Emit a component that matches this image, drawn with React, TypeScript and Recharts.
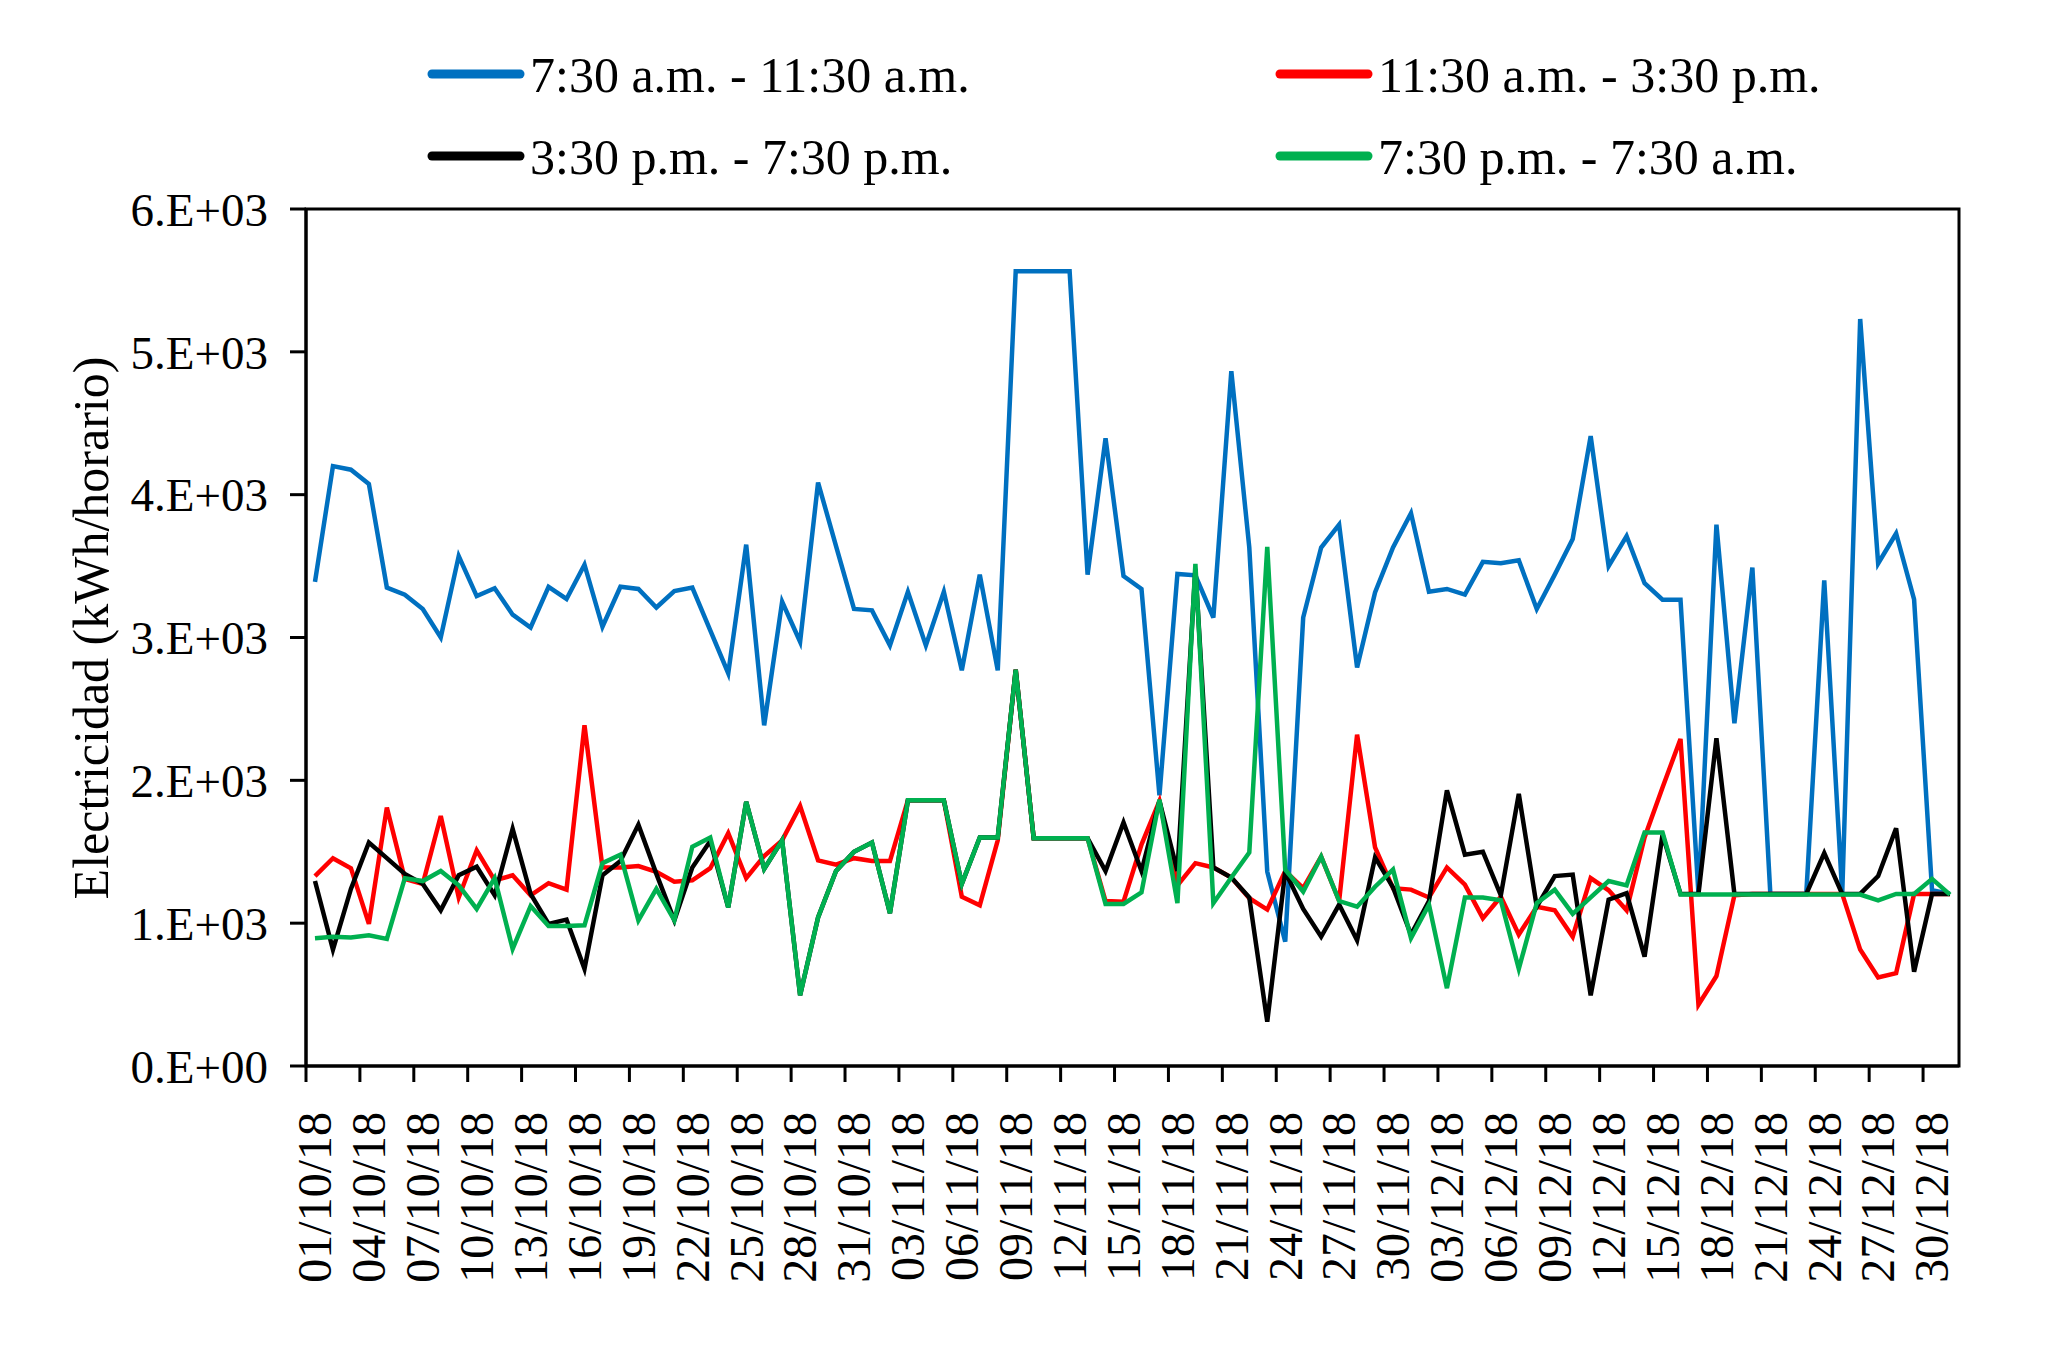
import React from 'react';
import { LineChart, Line, XAxis, YAxis, ReferenceArea, Legend } from 'recharts';

const DATES = [
  '01/10/18','02/10/18','03/10/18','04/10/18','05/10/18','06/10/18','07/10/18','08/10/18','09/10/18','10/10/18',
  '11/10/18','12/10/18','13/10/18','14/10/18','15/10/18','16/10/18','17/10/18','18/10/18','19/10/18','20/10/18',
  '21/10/18','22/10/18','23/10/18','24/10/18','25/10/18','26/10/18','27/10/18','28/10/18','29/10/18','30/10/18',
  '31/10/18','01/11/18','02/11/18','03/11/18','04/11/18','05/11/18','06/11/18','07/11/18','08/11/18','09/11/18',
  '10/11/18','11/11/18','12/11/18','13/11/18','14/11/18','15/11/18','16/11/18','17/11/18','18/11/18','19/11/18',
  '20/11/18','21/11/18','22/11/18','23/11/18','24/11/18','25/11/18','26/11/18','27/11/18','28/11/18','29/11/18',
  '30/11/18','01/12/18','02/12/18','03/12/18','04/12/18','05/12/18','06/12/18','07/12/18','08/12/18','09/12/18',
  '10/12/18','11/12/18','12/12/18','13/12/18','14/12/18','15/12/18','16/12/18','17/12/18','18/12/18','19/12/18',
  '20/12/18','21/12/18','22/12/18','23/12/18','24/12/18','25/12/18','26/12/18','27/12/18','28/12/18','29/12/18',
  '30/12/18','31/12/18',
];

// 7:30 a.m. - 11:30 a.m.
const MORNING = [
  3390, 4200, 4175, 4075, 3350, 3300, 3200, 3000, 3570, 3290,
  3345, 3160, 3070, 3355, 3270, 3510, 3075, 3355, 3340, 3210,
  3325, 3350, 3050, 2750, 3650, 2385, 3250, 2970, 4085, 3640,
  3200, 3190, 2945, 3320, 2945, 3320, 2770, 3440, 2770, 5565,
  5565, 5565, 5565, 3440, 4395, 3430, 3340, 1895, 3445, 3435,
  3140, 4865, 3630, 1360, 870, 3140, 3630, 3790, 2790, 3315,
  3630, 3870, 3320, 3340, 3300, 3530, 3520, 3540, 3200, 3440,
  3690, 4410, 3500, 3710, 3380, 3265, 3265, 1205, 3790, 2400,
  3490, 1205, 1205, 1205, 3400, 1205, 5230, 3518, 3728, 3267,
  1230, 1205,
];

// 11:30 a.m. - 3:30 p.m.
const MIDDAY = [
  1330, 1455, 1385, 995, 1810, 1310, 1275, 1750, 1180, 1510,
  1300, 1335, 1195, 1280, 1235, 2385, 1390, 1390, 1400, 1360,
  1290, 1300, 1385, 1630, 1315, 1470, 1580, 1820, 1440, 1410,
  1455, 1435, 1435, 1860, 1860, 1860, 1185, 1125, 1580, 2775,
  1595, 1595, 1595, 1595, 1155, 1150, 1550, 1855, 1265, 1420,
  1390, 1320, 1175, 1095, 1365, 1245, 1465, 1155, 2320, 1530,
  1245, 1235, 1180, 1390, 1270, 1035, 1185, 920, 1115, 1090,
  905, 1315, 1230, 1090, 1600, 1950, 2290, 430, 630, 1195,
  1205, 1205, 1205, 1205, 1205, 1205, 815, 620, 650, 1205,
  1205, 1205,
];

// 3:30 p.m. - 7:30 p.m.
const AFTERNOON = [
  1295, 815, 1240, 1565, 1455, 1345, 1275, 1090, 1335, 1395,
  1195, 1660, 1205, 995, 1025, 680, 1335, 1435, 1690, 1345,
  1020, 1390, 1575, 1110, 1850, 1380, 1580, 495, 1040, 1365,
  1500, 1565, 1070, 1860, 1860, 1860, 1275, 1600, 1600, 2775,
  1595, 1595, 1595, 1595, 1365, 1705, 1365, 1855, 1365, 3480,
  1390, 1320, 1180, 310, 1360, 1100, 905, 1130, 880, 1460,
  1250, 920, 1155, 1930, 1480, 1500, 1195, 1905, 1115, 1330,
  1340, 495, 1165, 1210, 765, 1620, 1205, 1205, 2295, 1205,
  1205, 1205, 1205, 1205, 1490, 1205, 1205, 1330, 1665, 660,
  1205, 1205,
];

// 7:30 p.m. - 7:30 a.m.
const NIGHT = [
  895, 905, 900, 915, 890, 1315, 1295, 1365, 1265, 1100,
  1315, 820, 1120, 980, 980, 985, 1420, 1480, 1020, 1240,
  1020, 1535, 1600, 1110, 1850, 1380, 1580, 495, 1040, 1365,
  1500, 1565, 1070, 1860, 1860, 1860, 1275, 1600, 1600, 2775,
  1595, 1595, 1595, 1595, 1135, 1135, 1215, 1865, 1140, 3515,
  1140, 1320, 1495, 3635, 1375, 1220, 1465, 1155, 1115, 1255,
  1375, 895, 1130, 545, 1180, 1180, 1160, 680, 1140, 1235,
  1065, 1180, 1295, 1265, 1635, 1635, 1200, 1200, 1200, 1200,
  1200, 1200, 1200, 1200, 1200, 1200, 1200, 1160, 1205, 1205,
  1310, 1200,
];

const SERIES_NAMES = ['7:30 a.m. - 11:30 a.m.', '11:30 a.m. - 3:30 p.m.', '3:30 p.m. - 7:30 p.m.', '7:30 p.m. - 7:30 a.m.'];
const SERIES_COLORS = ['#0070C0', '#FF0000', '#000000', '#00B050'];
const X_TICKS = [0, 3, 6, 9, 12, 15, 18, 21, 24, 27, 30, 33, 36, 39, 42, 45, 48, 51, 54, 57, 60, 63, 66, 69, 72, 75, 78, 81, 84, 87, 90];
const Y_TICKS = [0, 1000, 2000, 3000, 4000, 5000, 6000];

const data = DATES.map((d, i) => ({
  idx: i,
  date: d,
  morning: MORNING[i],
  midday: MIDDAY[i],
  afternoon: AFTERNOON[i],
  night: NIGHT[i],
}));

const FONT = '"Liberation Serif", "Times New Roman", serif';
const W = 2059;
const H = 1346;
const M_TOP = 209;
const M_RIGHT = 100;
const Y_W = 306;
const X_H = 280;
const PLOT_W = W - M_RIGHT - Y_W;
const DAY_PX = PLOT_W / DATES.length;
const LINE_W = 4.5;

function XTick(props: any) {
  const { x, y, payload } = props;
  const bx = x - DAY_PX / 2;
  return (
    <g>
      <line x1={bx} x2={bx} y1={y - 16} y2={y} stroke="#000" strokeWidth={3} />
      <text
        transform={`translate(${x},${y + 30}) rotate(-90)`}
        textAnchor="end"
        dy="0.34em"
        fontFamily={FONT}
        fontSize={48}
        fill="#000"
      >
        {DATES[payload.value]}
      </text>
    </g>
  );
}

const LEGEND_POS = [
  { lx: 432, ly: 74 },
  { lx: 1280, ly: 74 },
  { lx: 432, ly: 156 },
  { lx: 1280, ly: 156 },
];

function LegendContent(props: any) {
  const payload = props.payload || [];
  return (
    <svg width={W} height={200} style={{ display: 'block' }}>
      {payload.map((p: any, i: number) => {
        const k = SERIES_NAMES.indexOf(p.value);
        const ps = LEGEND_POS[k >= 0 ? k : i];
        return (
          <g key={i}>
            <line x1={ps.lx} x2={ps.lx + 88} y1={ps.ly} y2={ps.ly} stroke={p.color} strokeWidth={9} strokeLinecap="round" />
            <text x={ps.lx + 98} y={ps.ly} dy="0.35em" fontFamily={FONT} fontSize={50} fill="#000">
              {p.value}
            </text>
          </g>
        );
      })}
    </svg>
  );
}

const fmtY = (v: number) => (v === 0 ? '0.E+00' : `${v / 1000}.E+03`);

export default function App() {
  return (
    <div style={{ position: 'absolute', left: 0, top: 0, width: W, height: H, background: '#fff' }}>
      <LineChart width={W} height={H} data={data} margin={{ top: M_TOP, right: M_RIGHT, bottom: 0, left: 0 }}>
        <XAxis
          dataKey="idx"
          type="number"
          domain={[-0.5, DATES.length - 0.5]}
          ticks={X_TICKS}
          interval={0}
          allowDataOverflow
          height={X_H}
          axisLine={{ stroke: '#000', strokeWidth: 3 }}
          tickLine={false}
          tickSize={16}
          tickMargin={0}
          tick={<XTick />}
        />
        <YAxis
          type="number"
          domain={[0, 6000]}
          ticks={Y_TICKS}
          interval={0}
          width={Y_W}
          allowDataOverflow
          axisLine={{ stroke: '#000', strokeWidth: 3 }}
          tickLine={{ stroke: '#000', strokeWidth: 3 }}
          tickSize={16}
          tickMargin={22}
          tickFormatter={fmtY}
          tick={{ fontFamily: FONT, fontSize: 47, fill: '#000' }}
          label={(p: any) => (
            <text
              x={90}
              y={628}
              transform="rotate(-90 90 628)"
              textAnchor="middle"
              dy="0.35em"
              fontFamily={FONT}
              fontSize={50}
              fill="#000"
            >
              Electricidad (kWh/horario)
            </text>
          )}
        />
        <ReferenceArea x1={-0.5} x2={DATES.length - 0.5} y1={0} y2={6000} fill="none" stroke="#000" strokeWidth={3} ifOverflow="visible" />
        <Legend
          layout="horizontal"
          verticalAlign="middle"
          align="center"
          wrapperStyle={{ top: 0, left: 0, width: W, height: 200 }}
          content={<LegendContent />}
        />
        <Line type="linear" dataKey="morning" name={SERIES_NAMES[0]} stroke={SERIES_COLORS[0]} strokeWidth={LINE_W} dot={false} activeDot={false} isAnimationActive={false} />
        <Line type="linear" dataKey="midday" name={SERIES_NAMES[1]} stroke={SERIES_COLORS[1]} strokeWidth={LINE_W} dot={false} activeDot={false} isAnimationActive={false} />
        <Line type="linear" dataKey="afternoon" name={SERIES_NAMES[2]} stroke={SERIES_COLORS[2]} strokeWidth={LINE_W} dot={false} activeDot={false} isAnimationActive={false} />
        <Line type="linear" dataKey="night" name={SERIES_NAMES[3]} stroke={SERIES_COLORS[3]} strokeWidth={LINE_W} dot={false} activeDot={false} isAnimationActive={false} />
      </LineChart>
    </div>
  );
}
